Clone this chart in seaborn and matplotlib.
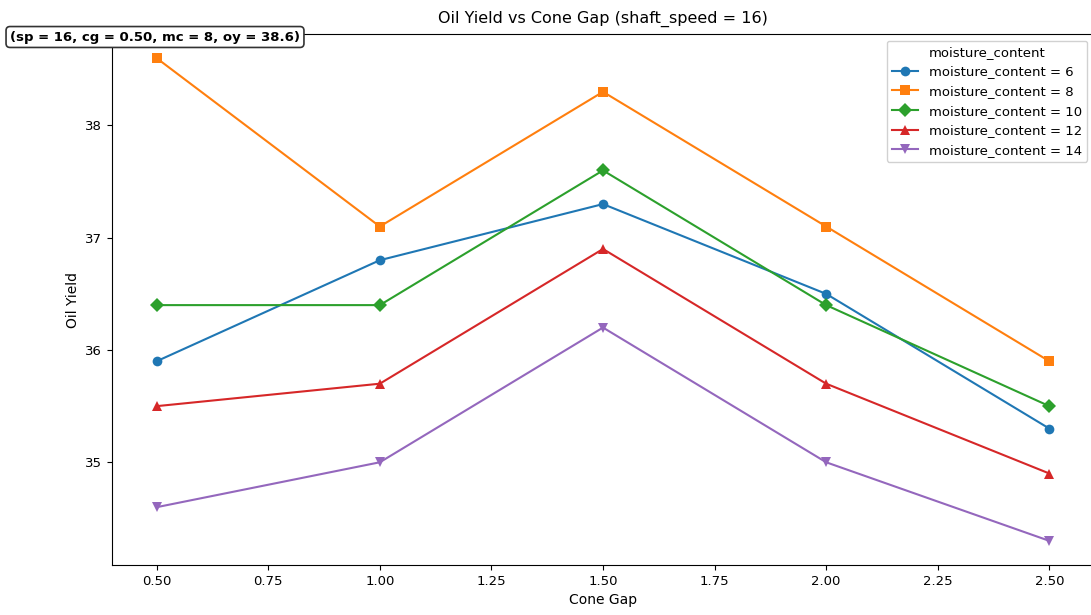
import numpy as np
import pandas as pd
import matplotlib
matplotlib.use("Agg")
import matplotlib.pyplot as plt
import seaborn as sns

# ------------------------------
# Data
# ------------------------------
cone_gap = [0.50, 1.00, 1.50, 2.00, 2.50]
moisture_levels = [6, 8, 10, 12, 14]
yield_mc6 = [35.9, 36.8, 37.3, 36.5, 35.3]
yield_mc8 = [38.6, 37.1, 38.3, 37.1, 35.9]
yield_mc10 = [36.4, 36.4, 37.6, 36.4, 35.5]
yield_mc12 = [35.5, 35.7, 36.9, 35.7, 34.9]
yield_mc14 = [34.6, 35.0, 36.2, 35.0, 34.3]
markers = ["o", "s", "D", "^", "v"]

series = [yield_mc6, yield_mc8, yield_mc10, yield_mc12, yield_mc14]
rows = []
for mc, ys in zip(moisture_levels, series):
    for cg, oy in zip(cone_gap, ys):
        rows.append({"cone_gap": cg, "oil_yield": oy,
                     "moisture_content": f"moisture_content = {mc}"})
df = pd.DataFrame(rows)

# ------------------------------
# Plot
# ------------------------------
fig = plt.figure(figsize=(10.91, 6.15), dpi=100)
ax = fig.add_axes([112 / 1091, 1 - 565 / 615, (1094 - 112) / 1091, (565 - 34) / 615])

sns.lineplot(data=df, x="cone_gap", y="oil_yield", hue="moisture_content",
             style="moisture_content", markers=markers, dashes=False,
             palette="tab10", markersize=7, linewidth=1.5,
             markeredgewidth=0, ax=ax)

ax.set_title("Oil Yield vs Cone Gap (shaft_speed = 16)", fontsize=11.5, pad=8)
ax.set_xlabel("Cone Gap", fontsize=10)
ax.set_ylabel("Oil Yield", fontsize=10)
ax.set_xticks(np.arange(0.5, 2.51, 0.25))
ax.tick_params(labelsize=9.5)

ax.legend(title="moisture_content", loc="upper right", fontsize=9.5,
          title_fontsize=9.5, framealpha=0.9)

fig.text(10 / 1091, 1 - 37 / 615, "(sp = 16, cg = 0.50, mc = 8, oy = 38.6)",
         fontsize=9.5, fontweight="bold", ha="left", va="center",
         bbox=dict(boxstyle="round,pad=0.3", fc="white", ec="#333333", lw=1.2))

fig.savefig("out.png", dpi=100)
